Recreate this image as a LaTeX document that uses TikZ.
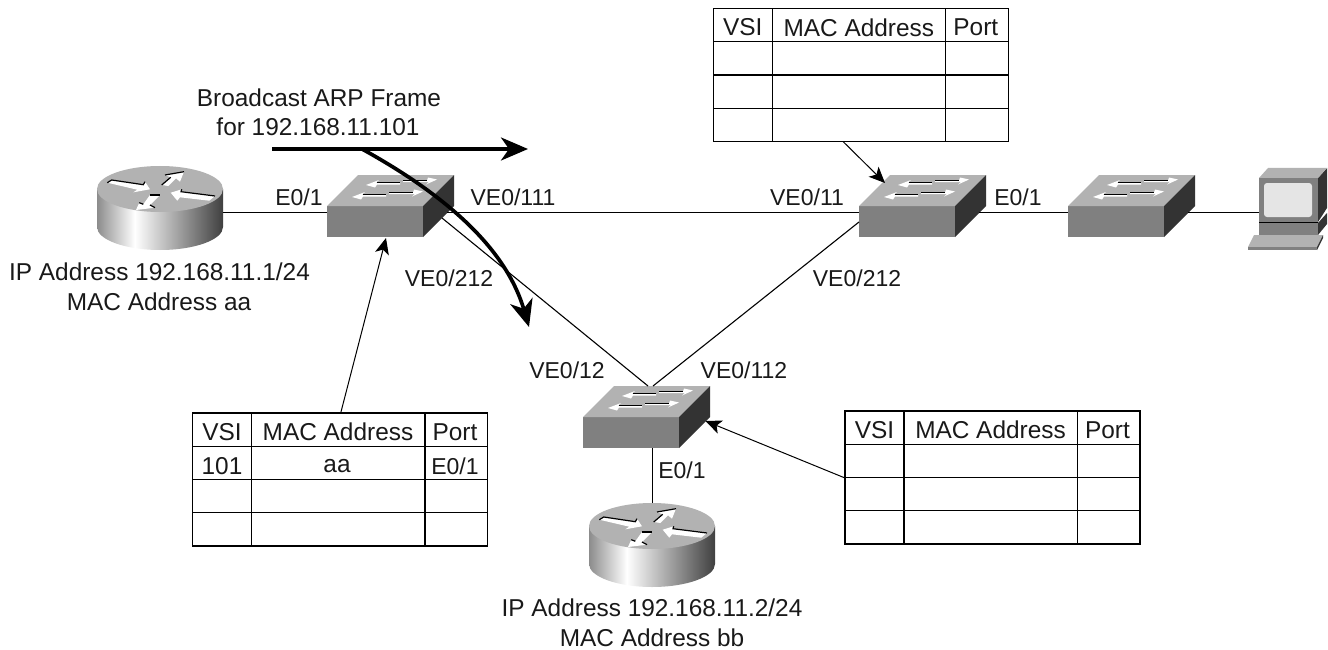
\documentclass[tikz,border=0pt]{standalone}
\usepackage{fontspec}
\setmainfont{Liberation Sans}
\usetikzlibrary{arrows.meta}
\definecolor{topgray}{gray}{0.7}
\definecolor{frontgray}{gray}{0.5}
\definecolor{sidegray}{gray}{0.2}
\pgfdeclarehorizontalshading{routerside}{100bp}{color(0bp)=(black!45);color(25bp)=(black!45);color(40bp)=(white);color(75bp)=(black!75);color(100bp)=(black!75)}
\tikzset{
	lbl/.style={font=\fontsize{24.4}{28}\selectfont,inner sep=0pt,text=black!90},
	portlbl/.style={font=\fontsize{23}{28}\selectfont,inner sep=0pt,text=black!90},
	thinarrow/.style={line width=1pt,-{Stealth[length=16pt,width=14pt,inset=4pt]}},
	heavyarrow/.style={line width=3.7pt,-{Stealth[length=27pt,width=23pt,inset=8pt]}},
	link/.style={line width=1.1pt},
	pics/switchicon/.style={code={
		\fill[frontgray] (0,0) rectangle (96,31);
		\fill[topgray] (0,0) -- (96,0) -- (127,-31) -- (31,-31) -- cycle;
		\fill[sidegray] (96,0) -- (127,-31) -- (127,0) -- (96,31) -- cycle;
		% arrows on the top face
		\foreach \dx/\dy in {0/0,-14/12}{
			\fill[white,shift={(\dx,\dy)}] (39,-21) -- (52,-26) -- (49,-23.5) -- (73,-23.5) -- (73,-21.5) -- (50,-21.5) -- (48,-18.5) -- cycle;
			\draw[black,line width=0.6pt,shift={(\dx,\dy)}] (50,-23.8) -- (73,-23.8);
			\fill[white,shift={(\dx,\dy)}] (76,-25.5) -- (100,-25.5) -- (101,-28.5) -- (110,-26.5) -- (99,-21.5) -- (102,-24) -- (76,-24) -- cycle;
			\draw[black,line width=0.6pt,shift={(\dx,\dy)}] (76,-25.8) -- (100,-25.8);
		}
		\coordinate (-w) at (0,6.5);
		\coordinate (-e) at (120,6.5);
		\coordinate (-se) at (115,12);
		\coordinate (-sw) at (0,16);
		\coordinate (-nl) at (65,-31);
		\coordinate (-nr) at (70,-31);
		\coordinate (-s) at (69.5,31);
	}},
	pics/routericon/.style={code={
		\shade[shading=routerside] (-63,0) -- (-63,38) arc[start angle=180,end angle=0,x radius=63,y radius=23] -- (63,0) -- cycle;
		\fill[topgray] (0,0) ellipse [x radius=63,y radius=23];
		% four arrows on the top
		\fill[white] (-52.7,-6.3) -- (-48.3,-9) -- (-16.7,-4.3) -- (-15,-7.3) -- (-10,0.3) -- (-26.7,3.3) -- (-22.7,0.7) -- cycle;
		\draw[black,line width=1.2pt] (-52.7,-6.3) -- (-48.3,-9) -- (-16.7,-4.3) -- (-15,-7.3);
		\fill[white] (5,-14) -- (24,-17.3) -- (20,-7.3) -- (16,-10.7) -- (8.3,-3) -- (1.7,-4) -- (10.7,-11.7) -- cycle;
		\draw[black,line width=1.2pt] (5,-14) -- (24,-17.3);
		\draw[black,line width=1.2pt] (10.7,-11.7) -- (1.7,-4);
		\fill[white] (10.7,3.7) -- (21.7,0.3) -- (21,2.7) -- (55,7) -- (49.3,11.7) -- (20,8.3) -- (17.3,11.7) -- cycle;
		\draw[black,line width=1.2pt] (21.7,0.3) -- (21,2.7) -- (55,7);
		\fill[white] (-24,21) -- (-20.7,13.7) -- (-16.7,15.3) -- (-10,6) -- (0,6) -- (-10,16) -- (-5,18.7) -- cycle;
		\draw[black,line width=1.2pt] (-10,6) -- (0,6);
		\draw[black,line width=1.2pt] (-20.7,13.7) -- (-16.7,15.3);
		\draw[black,line width=1.2pt] (-10,16) -- (-5,18.7);
		\coordinate (-e) at (63,23.5);
		\coordinate (-n) at (0.5,-23);
	}},
	pics/pcicon/.style={code={
		\fill[sidegray] (59,0) -- (68,-10) -- (68,30) -- (59,44) -- cycle;
		\fill[topgray] (0,0) -- (59,0) -- (68,-10) -- (9,-10) -- cycle;
		\fill[frontgray] (0,0) rectangle (59,44);
		\fill[black!10,rounded corners=3pt] (5,5) rectangle (53,39);
		\fill[black] (0,44) rectangle (59,45);
		\fill[frontgray] (0,45) rectangle (59,57);
		\fill[sidegray] (59,45) -- (68,35) -- (68,46) -- (59,57) -- cycle;
		\fill[topgray] (-5,57) -- (64,57) -- (58,69) -- (-11,69) -- cycle;
		\fill[frontgray] (-11,69) rectangle (58,72);
		\fill[sidegray] (58,69) -- (64,57) -- (64,60) -- (58,72) -- cycle;
		\coordinate (-w) at (0,34.5);
	}},
	pics/arptable/.style={code={
		\draw[line width=1.1pt] (0,0) rectangle (295,133);
		\foreach \rowy in {33.25,66.5,99.75}{
			\draw[line width=1.1pt] (0,\rowy) -- (295,\rowy);
		}
		\foreach \colx in {59,232.5}{
			\draw[line width=1.1pt] (\colx,0) -- (\colx,133);
		}
		\node[lbl] (-vsi) at (29.5,19) {VSI};
		\node[lbl] (-mac) at (145.5,19) {MAC Address};
		\node[lbl] (-port) at (262.5,19) {Port};
	}}
}
\begin{document}
\begin{tikzpicture}[line cap=butt,line join=miter,x=1pt,y=-1pt]
	\useasboundingbox (0,0) rectangle (1328,650);
	%icons
	\pic (rta) at (160,189) {routericon};
	\pic (rtb) at (652,526) {routericon};
	\pic (swa) at (327,206) {switchicon};
	\pic (swb) at (859,206) {switchicon};
	\pic (swc) at (583,417) {switchicon};
	\pic (swd) at (1068,206) {switchicon};
	\pic (pc) at (1259,178) {pcicon};
	%tables
	\pic (tbla) at (192.5,413) {arptable};
	\pic (tblb) at (713.3,8.5) {arptable};
	\pic (tblc) at (845,411) {arptable};
	\node[lbl] (tblavsi) at (222,466) {101};
	\node[lbl] (tblamac) at (337,466) {aa};
	\node[portlbl] (tblaport) at (455,466) {E0/1};
	%links
	\draw[link] (rta-e) -- (swa-w);
	\draw[link] (swa-e) -- (swb-w);
	\draw[link] (swa-se) -- (swc-nl);
	\draw[link] (swb-sw) -- (swc-nr);
	\draw[link] (swc-s) -- (rtb-n);
	\draw[link] (swb-e) -- (swd-w);
	\draw[link] (swd-e) -- (pc-w);
	%arrows from the tables
	\coordinate (tblaout) at (340.7,413);
	\coordinate (swain) at (386,238);
	\draw[thinarrow] (tblaout) -- (swain);
	\coordinate (tblbout) at (843,141.5);
	\coordinate (swbin) at (885,183);
	\draw[thinarrow] (tblbout) -- (swbin);
	\coordinate (tblcout) at (845,478);
	\coordinate (swcin) at (705.5,421);
	\draw[thinarrow] (tblcout) -- (swcin);
	%frame arrows
	\coordinate (framestart) at (272,149);
	\coordinate (framefwd) at (528,149);
	\coordinate (framefork) at (362,149);
	\coordinate (framedown) at (529,327);
	\draw[heavyarrow] (framestart) -- (framefwd);
	\draw[heavyarrow] (framefork) .. controls (440,192) and (505,245) .. (framedown);
	%labels
	\node[lbl] (framea) at (319,98) {Broadcast ARP Frame};
	\node[lbl] (frameb) at (318,127) {for 192.168.11.101};
	\node[portlbl] (lbla) at (299,197) {E0/1};
	\node[portlbl] (lblb) at (513,197) {VE0/111};
	\node[portlbl] (lblc) at (807,197) {VE0/11};
	\node[portlbl] (lbld) at (1018,197) {E0/1};
	\node[portlbl] (lble) at (449,278) {VE0/212};
	\node[portlbl] (lblf) at (857,278) {VE0/212};
	\node[portlbl] (lblg) at (567,370) {VE0/12};
	\node[portlbl] (lblh) at (744,370) {VE0/112};
	\node[portlbl] (lbli) at (682,470) {E0/1};
	\node[lbl] (rtaip) at (159.5,272) {IP Address 192.168.11.1/24};
	\node[lbl] (rtamac) at (159,302) {MAC Address aa};
	\node[lbl] (rtbip) at (652,608) {IP Address 192.168.11.2/24};
	\node[lbl] (rtbmac) at (652,638) {MAC Address bb};
\end{tikzpicture}
\end{document}
